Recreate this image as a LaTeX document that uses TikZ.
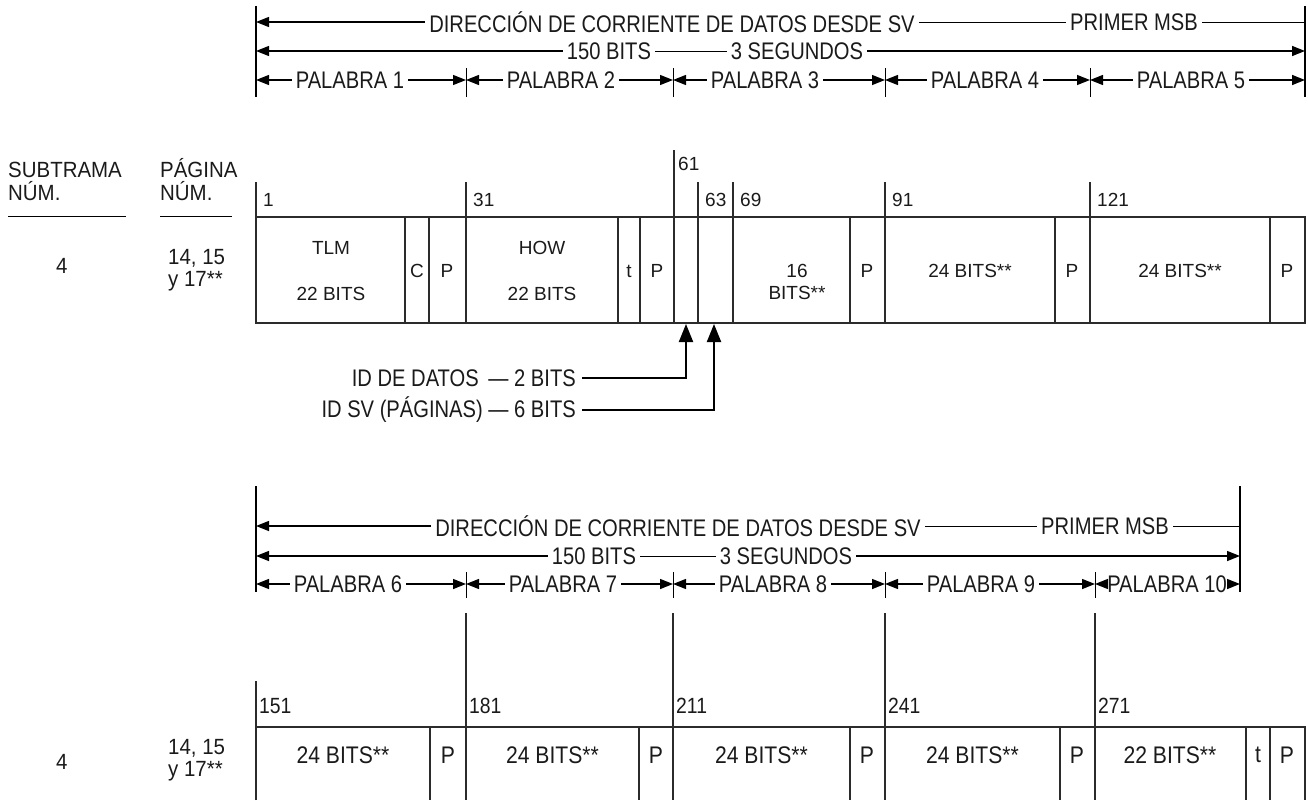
\documentclass[tikz,border=0pt]{standalone}
\usepackage{fontspec}
\setmainfont{Liberation Sans}
\newfontfamily\narrowsf[FakeStretch=0.84]{Liberation Sans}
\newfontfamily\cellsf[FakeStretch=0.88]{Liberation Sans}
\newfontfamily\labelsf[FakeStretch=0.93]{Liberation Sans}
\usetikzlibrary{arrows.meta}
\definecolor{frameink}{HTML}{2B2B2B}
\definecolor{textink}{HTML}{1A1A1A}
\tikzset{
  hdtext/.style={font=\narrowsf\fontsize{24}{24}\selectfont, text=textink, inner sep=4pt},
  celltext/.style={font=\fontsize{19}{22}\selectfont, text=textink, inner sep=0pt, align=center},
  cellnarrow/.style={font=\cellsf\fontsize{24}{24}\selectfont, text=textink, inner sep=0pt},
  bitnum/.style={font=\fontsize{19}{20}\selectfont, text=textink, anchor=west, inner sep=0pt},
  bitnumnarrow/.style={font=\cellsf\fontsize{22}{22}\selectfont, text=textink, anchor=west, inner sep=0pt},
  pagetext/.style={font=\labelsf\fontsize{22}{22}\selectfont, text=textink, inner sep=0pt, anchor=west, text height=11pt, text depth=3pt},
  spanarrow/.style={line width=1.4pt, -{Triangle[length=13pt,width=10pt]}},
  joinline/.style={line width=0.8pt},
  boxline/.style={frameink, line width=1.2pt},
  callout/.style={line width=2pt, -{Triangle[length=18pt,width=14pt]}},
}

\begin{document}
\begin{tikzpicture}[x=1pt,y=-1pt]
  \useasboundingbox (0,0) rectangle (1308,800);

  % --- cabecera de la palabra 1 a 5
  \draw[line width=1.4pt] (256,6) -- (256,97);
  \draw[line width=1.4pt] (1305,6) -- (1305,97);
  \coordinate (dl1) at (256,22);  \coordinate (dr1) at (1305,22);
  \coordinate (bl1) at (256,51);  \coordinate (br1) at (1305,51);
  \node[hdtext] (dir1) at (672,22) {DIRECCIÓN DE CORRIENTE DE DATOS DESDE SV};
  \node[hdtext] (msb1) at (1134,22) {PRIMER MSB};
  \draw[spanarrow] (dir1.west) -- (dl1);
  \draw[joinline] (dir1.east) -- (msb1.west);
  \draw[joinline] (msb1.east) -- (dr1);
  \node[hdtext] (bits1) at (609,51) {150 BITS};
  \node[hdtext] (secs1) at (797,51) {3 SEGUNDOS};
  \draw[spanarrow] (bits1.west) -- (bl1);
  \draw[joinline] (bits1.east) -- (secs1.west);
  \draw[spanarrow] (secs1.east) -- (br1);
  \foreach \n/\xa/\xb/\xc in {1/256/350/466, 2/466/561/673, 3/673/765/885, 4/885/985/1090, 5/1090/1191/1305} {
    \node[hdtext] (w\n) at (\xb,80) {PALABRA \n};
    \coordinate (wl\n) at (\xa,80);
    \coordinate (wr\n) at (\xc,80);
    \draw[spanarrow] (w\n.west) -- (wl\n);
    \draw[spanarrow] (w\n.east) -- (wr\n);
  }
  \foreach \x in {466,673,885,1090}
    \draw[joinline] (\x,68) -- (\x,97);

  % --- titulos de columna
  \node[pagetext] (sub) at (8,173) {SUBTRAMA};
  \node[pagetext] (subn) at (8,196) {NÚM.};
  \node[pagetext] (pag) at (160,173) {PÁGINA};
  \node[pagetext] (pagn) at (160,196) {NÚM.};
  \draw[line width=1pt] (8,216) -- (126,216);
  \draw[line width=1pt] (160,216) -- (232,216);

  % --- subtrama 4, palabras 1 a 5
  \node[pagetext] (sf1) at (56,269) {4};
  \node[pagetext] (pg1a) at (168,260) {14, 15};
  \node[pagetext] (pg1b) at (168,282) {y 17**};
  \draw[boxline] (256,217) rectangle (1305,323);
  \foreach \x in {405,429,618,640,698,733,850,1055,1270}
    \draw[boxline] (\x,217) -- (\x,323);
  \foreach \x in {256,466,698,733,885,1090}
    \draw[boxline] (\x,182) -- (\x,323);
  \draw[boxline] (674,150) -- (674,323);
  \foreach \x/\b in {256/1,466/31,698/63,733/69,885/91,1090/121}
    \node[bitnum] at (\x+7,200) {\b};
  \node[bitnum] at (678,164) {61};

  \node[celltext] (tlm) at (331,248) {TLM};
  \node[celltext] at (331,294) {22 BITS};
  \node[celltext] at (417,271) {C};
  \node[celltext] at (447,271) {P};
  \node[celltext] (how) at (542,248) {HOW};
  \node[celltext] at (542,294) {22 BITS};
  \node[celltext] at (629,271) {t};
  \node[celltext] at (657,271) {P};
  \node[celltext] at (797,282) {16\\BITS**};
  \node[celltext] at (867,271) {P};
  \node[celltext] at (970,271) {24 BITS**};
  \node[celltext] at (1072,271) {P};
  \node[celltext] at (1180,271) {24 BITS**};
  \node[celltext] at (1287,271) {P};

  % --- identificadores
  \coordinate (id61) at (686,324);
  \coordinate (id63) at (714,324);
  \node[hdtext, anchor=east, inner sep=0pt] (idd) at (576,378) {ID DE DATOS \,— 2 BITS};
  \node[hdtext, anchor=east, inner sep=0pt] (ids) at (576,410) {ID SV (PÁGINAS) — 6 BITS};
  \draw[callout] ([xshift=6pt]idd.east) -| (id61);
  \draw[callout] ([xshift=6pt]ids.east) -| (id63);

  % --- cabecera de la palabra 6 a 10
  \draw[line width=1.4pt] (256,486) -- (256,592);
  \draw[line width=1.4pt] (1240,486) -- (1240,592);
  \coordinate (dl2) at (256,526);  \coordinate (dr2) at (1240,526);
  \coordinate (bl2) at (256,556);  \coordinate (br2) at (1240,556);
  \node[hdtext] (dir2) at (678,526) {DIRECCIÓN DE CORRIENTE DE DATOS DESDE SV};
  \node[hdtext] (msb2) at (1105,526) {PRIMER MSB};
  \draw[spanarrow] (dir2.west) -- (dl2);
  \draw[joinline] (dir2.east) -- (msb2.west);
  \draw[joinline] (msb2.east) -- (dr2);
  \node[hdtext] (bits2) at (594,556) {150 BITS};
  \node[hdtext] (secs2) at (786,556) {3 SEGUNDOS};
  \draw[spanarrow] (bits2.west) -- (bl2);
  \draw[joinline] (bits2.east) -- (secs2.west);
  \draw[spanarrow] (secs2.east) -- (br2);
  \foreach \n/\xa/\xb/\xc in {6/256/348/466, 7/466/563/673, 8/673/773/885, 9/885/981/1095} {
    \node[hdtext] (w\n) at (\xb,584) {PALABRA \n};
    \coordinate (wl\n) at (\xa,584);
    \coordinate (wr\n) at (\xc,584);
    \draw[spanarrow] (w\n.west) -- (wl\n);
    \draw[spanarrow] (w\n.east) -- (wr\n);
  }
  \node[hdtext, inner xsep=1pt] (w10) at (1167,584) {PALABRA 10};
  \coordinate (wl10) at (1095,584);
  \coordinate (wr10) at (1240,584);
  \draw[spanarrow] (w10.west) -- (wl10);
  \draw[spanarrow] (w10.east) -- (wr10);
  \foreach \x in {466,673,885,1095}
    \draw[joinline] (\x,572) -- (\x,598);

  % --- subtrama 4, palabras 6 a 10
  \node[pagetext] (sf2) at (56,765) {4};
  \node[pagetext] (pg2a) at (168,750) {14, 15};
  \node[pagetext] (pg2b) at (168,772) {y 17**};
  \draw[boxline] (256,800) -- (256,681);
  \draw[boxline] (256,727) -- (1305,727) -- (1305,800);
  \foreach \x in {430,639,850,1060,1246,1270}
    \draw[boxline] (\x,727) -- (\x,800);
  \foreach \x in {466,673,885,1095}
    \draw[boxline] (\x,613) -- (\x,800);
  \foreach \x/\b in {256/151,466/181,673/211,885/241,1095/271}
    \node[bitnumnarrow] at (\x+3,706) {\b};
  \foreach \xa/\xb in {256/430,466/639,673/850,885/1060}
    \node[cellnarrow] at ({(\xa+\xb)/2},755) {24 BITS**};
  \foreach \x in {448,656,867,1077,1287}
    \node[cellnarrow] at (\x,755) {P};
  \node[cellnarrow] at (1170,755) {22 BITS**};
  \node[cellnarrow] at (1258,755) {t};
\end{tikzpicture}
\end{document}
